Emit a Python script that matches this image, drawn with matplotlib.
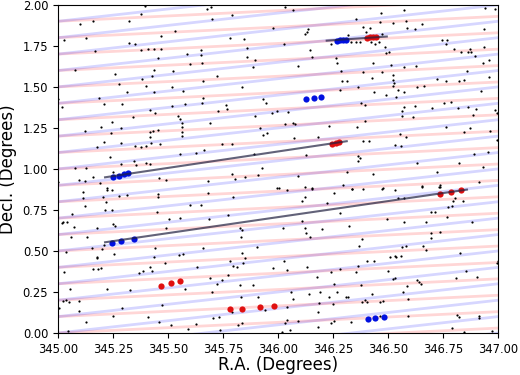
import numpy as np
import matplotlib
matplotlib.use("Agg")
import matplotlib.pyplot as plt

# background field stars (R.A., Decl.)
star_ra = [
    345.395, 345.100, 345.161, 345.029, 345.127, 345.323, 345.376, 345.321, 345.348, 345.377,
    345.411, 345.436, 345.468, 345.167, 345.470, 345.532, 345.676, 345.694, 345.698, 345.789,
    345.782, 345.845, 345.648, 345.648, 345.655, 345.585, 345.600, 345.455, 345.858, 345.524,
    345.435, 345.426, 345.383, 345.400, 345.438, 345.258, 345.077, 345.279, 345.315, 345.188,
    345.211, 345.017, 345.002, 345.245, 345.291, 345.342, 345.418, 345.441, 345.517, 345.568,
    345.520, 345.577, 345.661, 345.721, 345.835, 345.658, 345.655, 345.762, 345.770, 345.729,
    345.858, 345.895, 345.888, 345.895, 345.547, 345.555, 345.562, 345.562, 345.564, 345.691,
    345.194, 345.286, 345.123, 345.176, 345.211, 345.239, 345.285, 345.350, 345.417, 345.433,
    345.456, 345.418, 345.421, 345.398, 345.464, 345.562, 345.744, 345.792, 345.555, 345.627,
    345.662, 345.236, 345.285, 345.379, 345.345, 345.400, 345.418, 345.077, 345.127, 345.161,
    345.095, 345.123, 345.002, 345.191, 345.221, 345.252, 345.353, 345.461, 345.489, 345.683,
    345.792, 345.805, 345.850, 345.891, 345.911,
    346.032, 346.067, 345.979, 346.135, 346.130, 346.123, 346.027, 346.145, 346.153, 346.092,
    346.355, 346.467, 346.464, 346.524, 346.570, 346.580, 346.585, 346.620, 346.656, 346.388,
    346.418, 346.400, 346.320, 346.241, 346.332, 346.353, 346.373, 346.421, 346.441, 346.459,
    346.471, 346.488, 346.506, 346.491, 346.430, 346.512, 346.264, 346.267, 346.285, 346.289,
    346.315, 346.282, 346.365, 346.388, 346.429, 346.471, 346.524, 346.524, 346.527, 346.520,
    346.547, 346.570, 346.535, 346.573, 346.627, 346.630, 346.664, 346.721, 346.762, 346.823,
    346.845, 346.858, 346.747, 346.762, 346.767, 346.800, 346.829, 346.870, 346.876, 346.865,
    346.897, 346.929, 346.959, 346.936, 346.936, 346.942, 346.986, 346.958, 346.921, 346.436,
    346.489, 346.376, 346.395, 345.933, 345.944, 345.973, 345.994, 346.045, 346.032, 346.070,
    346.076, 346.232, 346.183, 346.073, 345.948, 345.930, 345.918, 346.358, 346.395, 346.570,
    346.565, 346.562, 346.612, 346.620, 346.698, 346.752, 346.785, 346.818, 346.865, 346.898,
    346.885, 346.986, 346.994, 346.762, 346.870, 346.847, 346.961, 346.997, 346.555, 346.580,
    346.532, 346.558, 346.411, 346.385, 346.630, 346.820, 346.888, 346.929, 346.955, 346.365,
    346.370, 346.361, 346.127, 346.089, 346.312, 346.433, 345.926, 346.002, 346.123, 346.156,
    346.721, 346.656, 346.736, 346.732, 346.915, 346.297, 346.479, 346.335,
    345.115, 345.115, 345.123, 345.221, 345.244, 345.203, 345.218, 345.214, 345.244, 345.279,
    345.315, 345.017, 345.024, 345.039, 345.062, 345.073, 345.133, 345.176, 345.248, 345.259,
    345.209, 345.153, 345.200, 345.176, 345.179, 345.158, 345.180, 345.194, 345.035, 345.058,
    345.029, 345.006, 345.036, 345.024, 345.052, 345.055, 345.095, 345.097, 345.126, 345.047,
    345.221, 345.252, 345.255, 345.289, 345.327, 345.370, 345.388, 345.418, 345.426, 345.441,
    345.448, 345.456, 345.453, 345.489, 345.506, 345.555, 345.567, 345.550, 345.486, 345.438,
    345.471, 345.459, 345.411, 345.514, 345.577, 345.589, 345.626, 345.600, 345.648, 345.683,
    345.658, 345.630, 345.688, 345.691, 345.721, 345.744, 345.771, 345.782, 345.797, 345.774,
    345.736, 345.733, 345.702, 345.706, 345.827, 345.830, 345.838, 345.838, 345.842, 345.850,
    345.797, 345.815, 345.832, 345.888, 345.906, 345.911, 345.835, 345.817, 345.789, 345.827,
    345.994, 346.039, 346.123, 346.111, 346.156, 346.252, 346.221, 346.282, 346.335, 346.385,
    346.471, 346.532, 346.547, 346.570, 346.656, 346.736, 346.802, 346.797, 346.789, 346.770,
    346.842, 346.694, 346.714, 346.767, 346.880, 346.671, 346.494, 346.573, 346.108, 346.024,
    346.123, 346.127, 346.145, 346.198, 346.324, 346.380, 346.368, 346.565, 346.580, 346.509,
    346.532, 346.535, 346.558, 346.658, 346.671, 346.695, 346.695, 346.736, 346.827, 345.979,
    346.027, 346.042, 346.130, 346.176, 346.241, 346.282, 346.361, 346.406, 346.436, 346.355,
    346.252, 346.377, 346.498, 346.532, 346.520, 346.585, 346.633, 346.641, 346.648, 346.567,
    346.592, 346.808, 346.855, 346.903, 346.994, 346.998, 346.058, 346.070, 346.142, 346.191,
    346.233, 346.267, 346.309, 346.320, 346.380, 346.395, 346.403, 346.426, 346.464, 346.479,
    346.186, 346.248, 346.183, 346.042, 345.941, 346.592, 346.812, 346.820, 346.911, 346.915,
    346.792, 346.845, 346.974, 346.032, 346.039, 346.092, 346.183, 346.239, 346.252, 346.330,
    346.055, 346.017, 346.461,
]
star_dec = [
    1.996, 1.884, 1.904, 1.787, 1.801, 1.904, 1.945, 1.770, 1.762, 1.726,
    1.730, 1.730, 1.730, 1.720, 1.813, 1.843, 1.976, 1.986, 1.915, 1.939,
    1.801, 1.793, 1.722, 1.695, 1.648, 1.699, 1.640, 1.675, 1.740, 1.598,
    1.604, 1.567, 1.549, 1.508, 1.472, 1.577, 1.604, 1.516, 1.467, 1.435,
    1.396, 1.376, 1.425, 1.285, 1.394, 1.319, 1.360, 1.343, 1.498, 1.476,
    1.384, 1.396, 1.537, 1.567, 1.498, 1.431, 1.400, 1.390, 1.366, 1.354,
    1.685, 1.661, 1.624, 1.325, 1.323, 1.303, 1.278, 1.258, 1.228, 1.278,
    1.256, 1.248, 1.232, 1.132, 1.163, 1.217, 1.161, 1.142, 1.224, 1.232,
    1.238, 1.193, 1.161, 1.140, 1.152, 1.201, 1.150, 1.150, 1.089, 1.096,
    1.116, 1.075, 1.028, 1.132, 1.051, 1.035, 1.028, 1.008, 1.008, 0.949,
    0.933, 0.927, 0.923, 0.917, 0.886, 0.984, 1.022, 0.943, 0.931, 0.927,
    0.967, 0.937, 0.953, 1.089, 0.963,
    1.986, 1.970, 1.862, 1.856, 1.833, 1.823, 1.762, 1.722, 1.681, 1.630,
    1.915, 1.949, 1.894, 1.892, 1.970, 1.902, 1.860, 1.854, 1.882, 1.868,
    1.860, 1.837, 1.815, 1.762, 1.772, 1.776, 1.774, 1.772, 1.760, 1.772,
    1.821, 1.742, 1.711, 1.705, 1.644, 1.634, 1.679, 1.644, 1.600, 1.537,
    1.539, 1.482, 1.498, 1.589, 1.557, 1.593, 1.573, 1.543, 1.522, 1.506,
    1.482, 1.470, 1.441, 1.620, 1.626, 1.502, 1.506, 1.547, 1.539, 1.539,
    1.543, 1.598, 1.783, 1.760, 1.787, 1.730, 1.711, 1.730, 1.711, 1.711,
    1.689, 1.648, 1.665, 1.742, 1.854, 1.980, 1.976, 1.561, 1.478, 1.472,
    1.451, 1.404, 1.390, 1.427, 1.404, 1.339, 1.356, 1.346, 1.274, 1.283,
    1.274, 1.262, 1.197, 1.191, 1.217, 1.207, 1.248, 1.254, 1.295, 1.376,
    1.356, 1.323, 1.319, 1.386, 1.374, 1.404, 1.407, 1.374, 1.380, 1.366,
    1.329, 1.360, 1.343, 1.258, 1.248, 1.226, 1.234, 1.177, 1.213, 1.193,
    1.146, 1.142, 1.173, 1.171, 1.035, 1.035, 1.091, 1.010, 1.106, 1.079,
    1.065, 1.049, 1.083, 0.959, 0.980, 0.967, 1.004, 0.882, 0.892, 0.882,
    0.980, 0.896, 0.902, 0.888, 0.923, 0.902, 0.882, 0.876,
    0.862, 0.821, 0.776, 0.872, 0.872, 0.827, 0.801, 0.750, 0.750, 0.837,
    0.841, 0.669, 0.679, 0.679, 0.726, 0.648, 0.587, 0.638, 0.663, 0.654,
    0.537, 0.520, 0.512, 0.465, 0.455, 0.390, 0.390, 0.394, 0.496, 0.587,
    0.370, 0.150, 0.201, 0.197, 0.191, 0.268, 0.197, 0.136, 0.065, 0.014,
    0.270, 0.104, 0.482, 0.150, 0.262, 0.364, 0.380, 0.404, 0.378, 0.516,
    0.736, 0.846, 0.831, 0.638, 0.695, 0.703, 0.482, 0.476, 0.429, 0.465,
    0.171, 0.069, 0.096, 0.049, 0.266, 0.024, 0.057, 0.780, 0.780, 0.852,
    0.516, 0.404, 0.695, 0.333, 0.297, 0.323, 0.720, 0.439, 0.827, 0.354,
    0.018, 0.096, 0.248, 0.089, 0.642, 0.587, 0.630, 0.490, 0.429, 0.455,
    0.407, 0.404, 0.222, 0.293, 0.526, 0.222, 0.059, 0.049, 0.130, 0.293,
    0.886, 0.872, 0.831, 0.807, 0.878, 0.852, 0.791, 0.730, 0.878, 0.878,
    0.878, 0.872, 0.821, 0.821, 0.892, 0.892, 0.821, 0.807, 0.776, 0.770,
    0.807, 0.736, 0.740, 0.705, 0.675, 0.675, 0.695, 0.679, 0.683, 0.642,
    0.638, 0.608, 0.583, 0.634, 0.654, 0.573, 0.530, 0.526, 0.530, 0.465,
    0.472, 0.463, 0.470, 0.533, 0.506, 0.612, 0.581, 0.618, 0.486, 0.394,
    0.439, 0.384, 0.402, 0.341, 0.374, 0.390, 0.411, 0.439, 0.439, 0.370,
    0.297, 0.293, 0.378, 0.337, 0.327, 0.287, 0.323, 0.313, 0.297, 0.248,
    0.207, 0.337, 0.378, 0.343, 0.425, 0.439, 0.248, 0.207, 0.238, 0.252,
    0.222, 0.252, 0.217, 0.217, 0.187, 0.201, 0.187, 0.236, 0.191, 0.197,
    0.181, 0.175, 0.130, 0.161, 0.140, 0.106, 0.110, 0.100, 0.089, 0.106,
    0.028, 0.008, 0.012, 0.059, 0.079, 0.075, 0.039, 0.063, 0.075, 0.065,
    0.018, 0.004, 0.106,
]

# moving object detections
blue_ra = [345.244, 345.286, 345.347,
           345.249, 345.279, 345.300, 345.317,
           346.267, 346.282, 346.297, 346.309,
           346.127, 346.164, 346.195,
           346.408, 346.441, 346.480]
blue_dec = [0.547, 0.559, 0.575,
            0.953, 0.959, 0.968, 0.976,
            1.782, 1.785, 1.787, 1.788,
            1.429, 1.433, 1.441,
            0.083, 0.091, 0.100]
red_ra = [346.736, 346.786, 346.829,
          346.244, 346.264, 346.279,
          346.403, 346.418, 346.433, 346.445,
          345.470, 345.515, 345.555,
          345.782, 345.835, 345.918, 345.980]
red_dec = [0.848, 0.862, 0.872,
           1.152, 1.160, 1.166,
           1.801, 1.803, 1.803, 1.803,
           0.288, 0.307, 0.319,
           0.146, 0.146, 0.157, 0.163]

# linked tracks: (ra start, ra end), (dec start, dec end)
track_ra = [(345.214, 346.858), (345.214, 346.312), (346.221, 346.494)]
track_dec = [(0.553, 0.874), (0.949, 1.169), (1.782, 1.807)]

# search stripes: dec at RA=345, slope in dec per degree of RA
stripe_start = np.arange(-0.5, 2.01, 0.1)
red_slope = 0.065
blue_slope = 0.15

fig = plt.figure(figsize=(5.2, 3.75), dpi=100)
ax = fig.add_axes([0.1115, 0.112, 0.8465, 0.875])

xs = np.array([345.0, 347.0])
for d0 in stripe_start:
    ax.plot(xs, d0 + red_slope * (xs - 345.0), color='red', alpha=0.16, lw=2.0, zorder=1)
    ax.plot(xs, d0 + blue_slope * (xs - 345.0), color='blue', alpha=0.16, lw=2.0, zorder=1)

ax.scatter(star_ra, star_dec, s=2.5, color='black', linewidths=0, zorder=2)
ax.scatter(blue_ra, blue_dec, s=20, color='#0010e0', linewidths=0, zorder=3)
ax.scatter(red_ra, red_dec, s=20, color='#e01010', linewidths=0, zorder=3)

for r, d in zip(track_ra, track_dec):
    ax.plot(r, d, color='#202040', alpha=0.7, lw=1.5, zorder=4)

ax.set_xlim(345, 347)
ax.set_ylim(0, 2)
ax.set_xticks(np.arange(345, 347.01, 0.25))
ax.set_yticks(np.arange(0, 2.01, 0.25))
ax.xaxis.set_major_formatter(matplotlib.ticker.FormatStrFormatter('%.2f'))
ax.yaxis.set_major_formatter(matplotlib.ticker.FormatStrFormatter('%.2f'))
ax.tick_params(labelsize=8.3, length=3.5)
ax.set_xlabel('R.A. (Degrees)', fontsize=12, labelpad=0)
ax.set_ylabel('Decl. (Degrees)', fontsize=12)

fig.savefig('out.png', dpi=100)
